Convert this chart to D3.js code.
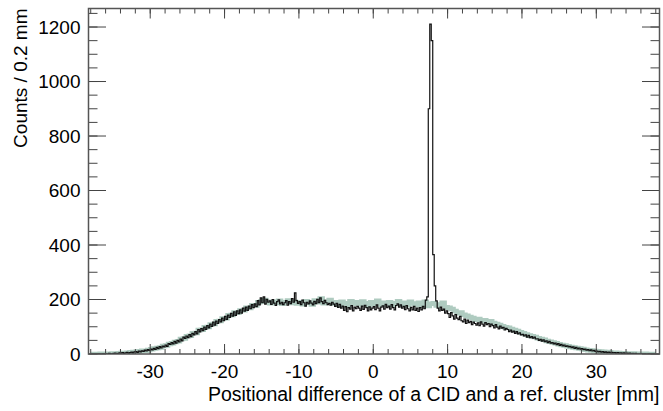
<!DOCTYPE html>
<html>
<head>
<meta charset="utf-8">
<script src="https://cdn.jsdelivr.net/npm/d3@7"></script>
<style>
  body { margin: 0; background: #fff; }
  text { font-family: "Liberation Sans", Arial, sans-serif; fill: #000; }
</style>
</head>
<body>
<div id="chart"></div>
<script>
// bin settings (mm)
var binStart = -38;
var blackBinWidth = 0.2;
var greenBinWidth = 0.4;

// black histogram: counts per 0.2 mm bin, -38 .. 38 (10 bins per row = 2 mm)
var blackCounts = [
  0,0,0,0,0,1,0,0,1,0,
  1,0,2,1,1,2,3,1,2,4,
  3,5,2,4,6,3,5,7,4,8,
  9,6,11,8,12,10,14,11,16,13,
  18,15,21,17,24,20,27,22,29,26,
  33,28,38,35,42,37,46,40,50,44,
  55,48,62,57,66,60,71,64,76,70,
  82,74,90,81,93,86,99,90,104,96,
  110,101,117,106,121,112,126,118,132,122,
  138,127,143,134,149,139,155,142,158,148,
  162,150,168,157,172,160,176,166,181,170,
  184,174,196,180,206,188,210,183,201,190,
  195,182,200,187,178,192,199,184,190,181,
  188,196,179,192,185,203,190,224,196,186,
  192,181,198,188,176,190,184,195,187,180,
  193,185,201,188,206,192,185,197,188,181,
  186,179,190,183,175,186,171,182,168,176,
  160,174,155,170,165,178,158,172,166,175,
  168,160,176,164,179,170,158,173,162,168,
  174,163,180,168,158,172,177,165,182,170,
  176,165,181,170,162,178,184,172,180,168,
  175,163,178,166,158,171,162,175,160,168,
  156,170,162,175,166,198,210,900,1211,1150,
  365,250,195,168,158,172,160,165,150,158,
  148,134,152,140,128,145,132,126,138,122,
  118,128,112,124,115,120,108,117,112,106,
  114,104,118,110,102,115,108,112,100,110,
  104,96,108,99,92,102,95,98,88,94,
  90,82,88,80,84,76,82,74,78,70,
  72,66,70,62,68,60,64,58,62,55,
  56,50,54,47,52,45,48,42,46,40,
  42,37,40,34,38,32,35,30,33,28,
  30,26,28,23,26,21,24,19,22,18,
  20,16,18,14,16,12,15,11,13,10,
  11,8,10,7,9,6,8,5,7,5,
  6,4,5,3,5,3,4,2,4,2,
  3,2,3,1,2,1,2,1,1,1,
  1,0,1,0,0,1,0,0,0,0
];

// green (reference) histogram: counts per 0.2 mm, in 0.4 mm steps, -38 .. 38
var greenCounts = [
  0,0,0,1,1,1,1,2,2,3,
  4,4,5,6,7,8,10,12,12,15,
  17,20,22,24,29,31,37,39,44,47,
  55,57,65,67,76,77,88,89,98,99,
  108,110,120,121,130,131,142,143,152,151,
  160,161,170,169,179,178,190,193,198,192,
  186,192,188,195,184,190,196,187,192,185,
  190,183,194,188,182,196,190,204,186,192,
  198,185,190,180,192,186,178,194,184,190,
  182,193,186,178,190,184,195,181,188,183,
  190,180,186,194,182,188,179,192,185,180,
  188,178,192,176,184,186,178,182,188,172,
  170,165,158,150,152,144,140,136,132,126,
  128,122,124,118,120,114,110,106,102,98,
  96,92,88,84,80,76,72,68,65,62,
  58,55,52,48,45,42,39,36,33,31,
  28,26,24,22,20,18,16,14,13,11,
  10,9,8,7,6,5,5,4,3,3,
  2,2,2,1,1,1,1,0,0,0
];

var xTicks = [-30, -20, -10, 0, 10, 20, 30];
var yTicks = [0, 200, 400, 600, 800, 1000, 1200];

var svgWidth = 663;
var svgHeight = 411;
var margin = { top: 8.5, right: 3.5, bottom: 57, left: 88.5 };
var width = svgWidth - margin.left - margin.right;
var height = svgHeight - margin.top - margin.bottom;

var svg = d3.select("#chart").append("svg")
  .attr("width", svgWidth)
  .attr("height", svgHeight);

var chartGroup = svg.append("g")
  .attr("transform", `translate(${margin.left}, ${margin.top})`);

var xScale = d3.scaleLinear().domain([-38.3, 38.5]).range([0, width]);
var yScale = d3.scaleLinear().domain([0, 1268]).range([height, 0]);

svg.append("defs").append("clipPath").attr("id", "clip")
  .append("rect").attr("width", width).attr("height", height);

// turn counts into step points
function stepPoints(counts, w) {
  var pts = counts.map((c, i) => [binStart + i * w, c]);
  pts.push([binStart + counts.length * w, counts[counts.length - 1]]);
  return pts;
}

var line = d3.line()
  .x(d => xScale(d[0]))
  .y(d => yScale(d[1]))
  .curve(d3.curveStepAfter);

var plot = chartGroup.append("g").attr("clip-path", "url(#clip)");

plot.append("path")
  .datum(stepPoints(greenCounts, greenBinWidth))
  .attr("fill", "none")
  .attr("stroke", "#afcbc0")
  .attr("stroke-width", 4.5)
  .attr("d", line);

plot.append("path")
  .datum(stepPoints(blackCounts, blackBinWidth))
  .attr("fill", "none")
  .attr("stroke", "#111")
  .attr("stroke-width", 1.2)
  .attr("d", line);

// ticks (inside the frame, all four sides)
var xMinor = d3.range(-38, 39, 2);
var yMinor = d3.range(0, 1251, 50);
var tickColor = "#444";

function tickLines(vals, isX, len, side) {
  chartGroup.append("g").selectAll("line").data(vals).enter().append("line")
    .attr("x1", d => isX ? xScale(d) : (side ? width : 0))
    .attr("x2", d => isX ? xScale(d) : (side ? width - len : len))
    .attr("y1", d => isX ? (side ? 0 : height) : yScale(d))
    .attr("y2", d => isX ? (side ? len : height - len) : yScale(d))
    .attr("stroke", tickColor)
    .attr("stroke-width", 1);
}
tickLines(xMinor, true, 5, false);
tickLines(xTicks, true, 10, false);
tickLines(xMinor, true, 5, true);
tickLines(xTicks, true, 10, true);
tickLines(yMinor, false, 9, false);
tickLines(yTicks, false, 17.5, false);
tickLines(yMinor, false, 9, true);
tickLines(yTicks, false, 17.5, true);

// frame
chartGroup.append("rect")
  .attr("width", width)
  .attr("height", height)
  .attr("fill", "none")
  .attr("stroke", "#555")
  .attr("stroke-width", 1.5);

// tick labels
chartGroup.append("g").selectAll("text").data(xTicks).enter().append("text")
  .attr("x", d => xScale(d))
  .attr("y", height + 23.5)
  .attr("text-anchor", "middle")
  .style("font-size", "19px")
  .text(d => d);

chartGroup.append("g").selectAll("text").data(yTicks).enter().append("text")
  .attr("x", -8)
  .attr("y", d => yScale(d) + 6.5)
  .attr("text-anchor", "end")
  .style("font-size", "19px")
  .text(d => d);

// axis titles
chartGroup.append("text")
  .attr("x", width)
  .attr("y", height + 47)
  .attr("text-anchor", "end")
  .style("font-size", "19.5px")
  .text("Positional difference of a CID and a ref. cluster [mm]");

chartGroup.append("text")
  .attr("transform", "rotate(-90)")
  .attr("x", 0)
  .attr("y", -62)
  .attr("text-anchor", "end")
  .style("font-size", "19px")
  .text("Counts / 0.2 mm");
</script>
</body>
</html>
